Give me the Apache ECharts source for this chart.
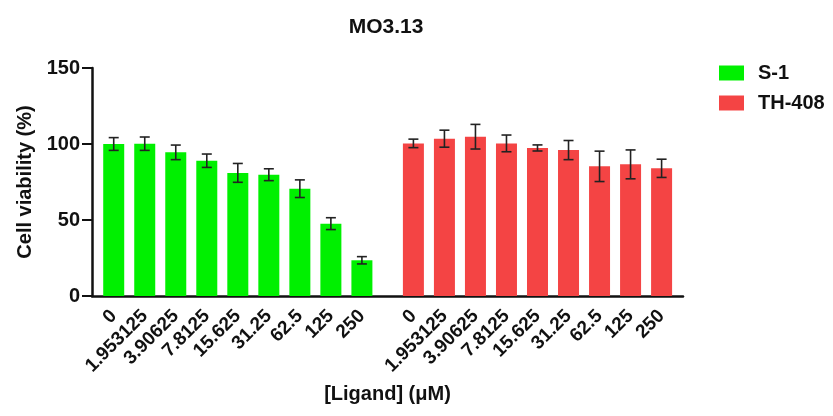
<!DOCTYPE html>
<html>
<head>
<meta charset="utf-8">
<script src="https://cdn.jsdelivr.net/npm/echarts@6/dist/echarts.min.js"></script>
<style>html,body{margin:0;padding:0;background:#fff;}#c{width:833px;height:416px;}</style>
</head>
<body>
<div id="c"></div>
<script>
// ---- data ----
var categories = ['0', '1.953125', '3.90625', '7.8125', '15.625', '31.25', '62.5', '125', '250'];
var s1Values = [100, 100.2, 94.5, 89, 81, 79.8, 70.6, 47.6, 23.5];
var s1Errors = [4.2, 4.4, 4.8, 4.4, 6.2, 3.9, 5.8, 3.9, 2.4];
var thValues = [100.4, 103.5, 104.8, 100.4, 97.4, 96, 85.3, 86.6, 84];
var thErrors = [2.8, 5.6, 8.1, 5.5, 2.0, 6.3, 10, 9.5, 6];
var seriesNames = ['S-1', 'TH-408'];
var yTicks = [0, 50, 100, 150];

// ---- layout ----
var GROUP_OFFSET = 9.66;   // position of 2nd group's first bar (in bar slots)
var FONT = "'Liberation Sans', Arial, sans-serif";
var GREEN = '#00f000', RED = '#f44444';

var s1X = categories.map(function (c, i) { return i; });
var thX = categories.map(function (c, i) { return i + GROUP_OFFSET; });
var allX = s1X.concat(thX);
var allLabels = categories.concat(categories);

function labelFor(v) {
  for (var i = 0; i < allX.length; i++) if (Math.abs(allX[i] - v) < 1e-6) return allLabels[i];
  return '';
}

function barData(xs, vs) { return xs.map(function (x, i) { return [x, vs[i]]; }); }
function errData(xs, vs, es) { return xs.map(function (x, i) { return [x, vs[i] - es[i], vs[i] + es[i]]; }); }

function renderErr(params, api) {
  var x = api.value(0), lo = api.value(1), hi = api.value(2);
  var pLo = api.coord([x, lo]), pHi = api.coord([x, hi]);
  var hw = 5;
  var st = { stroke: '#222', lineWidth: 1.6 };
  return {
    type: 'group',
    children: [
      { type: 'line', shape: { x1: pLo[0], y1: pLo[1], x2: pHi[0], y2: pHi[1] }, style: st },
      { type: 'line', shape: { x1: pLo[0] - hw, y1: pLo[1], x2: pLo[0] + hw, y2: pLo[1] }, style: st },
      { type: 'line', shape: { x1: pHi[0] - hw, y1: pHi[1], x2: pHi[0] + hw, y2: pHi[1] }, style: st }
    ]
  };
}

var chart = echarts.init(document.getElementById('c'), null, { renderer: 'canvas' });
chart.setOption({
  animation: false,
  backgroundColor: '#fff',
  textStyle: { fontFamily: FONT },
  title: {
    text: 'MO3.13', left: 381, top: 12, textAlign: 'center',
    textStyle: { fontFamily: FONT, fontWeight: 'bold', fontSize: 21, color: '#111' }
  },
  legend: {
    orient: 'vertical', left: 719, top: 63, padding: 0,
    itemWidth: 25, itemHeight: 15, itemGap: 10,
    icon: 'rect',
    data: seriesNames,
    textStyle: { fontFamily: FONT, fontWeight: 'bold', fontSize: 20, color: '#111', padding: [0, 0, 0, 9] }
  },
  grid: { left: 92, right: 150, top: 68, bottom: 120, containLabel: false },
  xAxis: {
    type: 'value',
    min: -0.7, max: 18.35,
    name: '[Ligand] (μM)', nameLocation: 'middle', nameGap: 88,
    nameTextStyle: { fontFamily: FONT, fontWeight: 'bold', fontSize: 20, color: '#111' },
    axisLine: { show: true, onZero: false, lineStyle: { color: '#111', width: 2.5 } },
    axisTick: { show: true, inside: true, length: 9, lineStyle: { color: '#111', width: 2.5 }, customValues: allX },
    axisLabel: {
      rotate: 45, margin: 17, customValues: allX,
      formatter: function (v) { return labelFor(v); },
      fontFamily: FONT, fontWeight: 'bold', fontSize: 19, color: '#111'
    },
    splitLine: { show: false }
  },
  yAxis: {
    type: 'value', min: 0, max: 150, interval: 50,
    name: 'Cell viability (%)', nameLocation: 'middle', nameGap: 57,
    nameTextStyle: { fontFamily: FONT, fontWeight: 'bold', fontSize: 20, color: '#111' },
    axisLine: { show: true, onZero: false, lineStyle: { color: '#111', width: 2.5 } },
    axisTick: { show: true, length: 10, lineStyle: { color: '#111', width: 2 } },
    axisLabel: { margin: 12, fontFamily: FONT, fontWeight: 'bold', fontSize: 20, color: '#111',
      formatter: function (v) { return yTicks.indexOf(v) >= 0 ? String(v) : ''; } },
    splitLine: { show: false }
  },
  series: [
    { name: seriesNames[0], type: 'bar', barWidth: 21, barGap: '-100%', itemStyle: { color: GREEN },
      data: barData(s1X, s1Values), z: 1 },
    { name: seriesNames[1], type: 'bar', barWidth: 21, barGap: '-100%', itemStyle: { color: RED },
      data: barData(thX, thValues), z: 1 },
    { type: 'custom', renderItem: renderErr, data: errData(s1X, s1Values, s1Errors), z: 5, encode: { x: 0, y: [1, 2] } },
    { type: 'custom', renderItem: renderErr, data: errData(thX, thValues, thErrors), z: 5, encode: { x: 0, y: [1, 2] } }
  ]
});
</script>
</body>
</html>
